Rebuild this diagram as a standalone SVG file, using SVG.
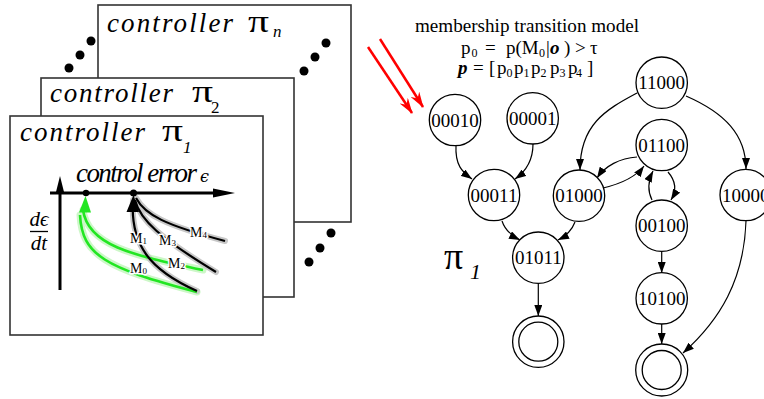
<svg xmlns="http://www.w3.org/2000/svg" width="764" height="399" viewBox="0 0 764 399">
<style>
.panel{fill:#fff;stroke:#333;stroke-width:1.6}
.ctl{font-family:"Liberation Serif",serif;font-style:italic;font-size:27px;fill:#000}
.pi{font-family:"Liberation Serif",serif;font-size:32px;fill:#000}
.sub{font-family:"Liberation Serif",serif;font-size:17px;fill:#000}
.dot{fill:#000}
.axis{stroke:#000;stroke-width:3;fill:none}
.gh{stroke:#cdf7c8;stroke-width:7;fill:none;stroke-linecap:round}
.gc{stroke:#22e622;stroke-width:2.6;fill:none}
.bh{stroke:#c8c8c8;stroke-width:6;fill:none;stroke-linecap:round}
.bc{stroke:#000;stroke-width:2.2;fill:none}
.ml{font-family:"Liberation Serif",serif;font-size:14px;fill:#000;stroke:#fff;stroke-width:3;paint-order:stroke;stroke-linejoin:round}
.ms{font-size:9px}
.node circle{fill:#fff;stroke:#000;stroke-width:1.3}
.node text{font-family:"Liberation Serif",serif;font-size:19px;text-anchor:middle;fill:#000}
.edge{stroke:#000;stroke-width:1.2;fill:none;marker-end:url(#ah)}
.red{stroke:#f00;stroke-width:2.5;fill:none;marker-end:url(#rh)}
.hdr{font-family:"Liberation Serif",serif;font-size:19px;fill:#000}
.hs{font-size:12px}
.bi{font-weight:bold;font-style:italic}
</style>
<defs>
<marker id="ah" viewBox="0 0 11 8" refX="11" refY="4" markerWidth="11" markerHeight="8" markerUnits="userSpaceOnUse" orient="auto"><path d="M0,0L11,4L0,8z" fill="#000"/></marker>
<marker id="rh" viewBox="0 0 16 10" refX="15" refY="5" markerWidth="16" markerHeight="10" markerUnits="userSpaceOnUse" orient="auto"><path d="M0,0L16,5L0,10L5,5z" fill="#f00"/></marker>
</defs>

<g id="panel-n">
<rect class="panel" x="98" y="5" width="253" height="217"/>
<text class="ctl" x="107" y="32" textLength="126" lengthAdjust="spacing">controller</text>
<text class="pi" x="248" y="32" textLength="21" lengthAdjust="spacingAndGlyphs">π</text>
<text class="sub" x="273" y="37" font-style="italic">n</text>
</g>
<g id="dots">
<circle class="dot" cx="69" cy="68" r="4.5"/><circle class="dot" cx="80" cy="55" r="4.5"/><circle class="dot" cx="91" cy="41" r="4.5"/>
<circle class="dot" cx="304" cy="71" r="4.5"/><circle class="dot" cx="315" cy="57" r="4.5"/><circle class="dot" cx="326" cy="43" r="4.5"/>
<circle class="dot" cx="309" cy="262" r="4.5"/><circle class="dot" cx="320" cy="248" r="4.5"/><circle class="dot" cx="331" cy="233" r="4.5"/>
</g>
<g id="panel-2">
<rect class="panel" x="41" y="78" width="253" height="219"/>
<text class="ctl" x="50" y="102" textLength="123" lengthAdjust="spacing">controller</text>
<text class="pi" x="192" y="102" textLength="21" lengthAdjust="spacingAndGlyphs">π</text>
<text class="sub" x="211" y="113">2</text>
</g>
<g id="panel-1">
<rect class="panel" x="10" y="116" width="253" height="219"/>
<text class="ctl" x="20" y="141" textLength="125" lengthAdjust="spacing">controller</text>
<text class="pi" x="162" y="141" textLength="21" lengthAdjust="spacingAndGlyphs">π</text>
<text class="sub" x="183" y="153" font-style="italic">1</text>
</g>

<g id="plot">
<text class="ctl" x="76" y="182" font-size="20" textLength="121" lengthAdjust="spacing">control error</text>
<text x="200" y="182" font-family="'DejaVu Serif','Liberation Serif',serif" font-size="16" font-style="italic">ϵ</text>
<line class="axis" x1="50" y1="193" x2="216" y2="193"/>
<polygon points="235,193 213,188.5 213,197.5" fill="#000"/>
<line class="axis" x1="60" y1="290" x2="60" y2="192"/>
<polygon points="60,176 55.5,194 64.5,194" fill="#000"/>
<text x="39" y="226" font-family="'Liberation Serif',serif" font-size="21" font-style="italic" text-anchor="middle">dϵ</text>
<line x1="30" y1="231.5" x2="48" y2="231.5" stroke="#000" stroke-width="1.3"/>
<text x="39" y="250" font-family="'Liberation Serif',serif" font-size="21" font-style="italic" text-anchor="middle">dt</text>

<path class="gh" d="M83,210 C88,245 130,255 203,270"/>
<path class="gh" d="M80,215 C82,255 105,268 197,292"/>
<path class="bh" d="M133,200 C130,245 150,270 197,291"/>
<path class="bh" d="M135,200 C140,220 160,238 216,272"/>
<path class="bh" d="M136,198 C145,215 165,225 225,241" stroke-width="8"/>
<path class="gc" d="M83,210 C88,245 130,255 203,270"/>
<path class="gc" d="M80,215 C82,255 105,268 197,292"/>
<path class="bc" d="M133,200 C130,245 150,270 197,291"/>
<path class="bc" d="M135,200 C140,220 160,238 216,272"/>
<path class="bc" d="M136,198 C145,215 165,225 225,241" stroke-width="3.2"/>
<polygon points="85.5,196 79,212.5 91,212.5" fill="#22e622"/>
<polygon points="133.5,195 126.5,212 139,212" fill="#000"/>
<circle cx="86" cy="193" r="3.2" fill="#000"/>
<circle cx="133.5" cy="193" r="3.5" fill="#000"/>
<text class="ml" x="130" y="243">M<tspan class="ms" dy="1">1</tspan></text>
<text class="ml" x="159" y="245">M<tspan class="ms" dy="1">3</tspan></text>
<text class="ml" x="190" y="237">M<tspan class="ms" dy="1">4</tspan></text>
<text class="ml" x="168" y="268">M<tspan class="ms" dy="1">2</tspan></text>
<text class="ml" x="130" y="273">M<tspan class="ms" dy="1">0</tspan></text>
</g>

<g id="header">
<text class="hdr" x="415" y="32" textLength="224" lengthAdjust="spacingAndGlyphs">membership transition model</text>
<text class="hdr"><tspan x="461" y="54">p</tspan><tspan class="hs" x="471.5" y="56.5">0</tspan><tspan x="485" y="54">=</tspan><tspan x="506" y="54">p(M</tspan><tspan class="hs" x="539" y="56.5">0</tspan><tspan x="546" y="54">|</tspan><tspan x="550" y="54" class="bi">o</tspan><tspan x="564" y="54">)</tspan><tspan x="575" y="54">&gt;</tspan><tspan x="590" y="54">τ</tspan></text>
<text class="hdr"><tspan x="458" y="74" class="bi">p</tspan><tspan x="473" y="74">=</tspan><tspan x="489" y="74">[</tspan><tspan x="497" y="74">p</tspan><tspan class="hs" x="506.5" y="76.5">0</tspan><tspan x="514" y="74">p</tspan><tspan class="hs" x="523.5" y="76.5">1</tspan><tspan x="531" y="74">p</tspan><tspan class="hs" x="540.5" y="76.5">2</tspan><tspan x="550" y="74">p</tspan><tspan class="hs" x="559.5" y="76.5">3</tspan><tspan x="568" y="74">p</tspan><tspan class="hs" x="576" y="76.5">4</tspan><tspan x="587" y="74">]</tspan></text>
</g>

<g id="red-arrows">
<line class="red" x1="368" y1="47" x2="412" y2="113"/>
<line class="red" x1="380" y1="39" x2="423" y2="107"/>
</g>

<g id="pi1-label">
<text font-family="'Liberation Serif',serif"><tspan x="444" y="269" font-size="38">π</tspan><tspan x="470" y="279" font-size="22" font-style="italic">1</tspan></text>
</g>

<g id="edges">
<path class="edge" d="M456,145 C455,165 462,172 472,179"/>
<path class="edge" d="M533,144 C533,162 525,172 515,179"/>
<path class="edge" d="M637,93 C605,110 580,125 580,170"/>
<path class="edge" d="M686,96 C725,113 746,135 746,169"/>
<path class="edge" d="M637,157 C620,158 605,166 597,178"/>
<path class="edge" d="M603,188 C620,184 635,178 644,166"/>
<path class="edge" d="M652,200 C647,190 648,181 653,171"/>
<path class="edge" d="M668,172 C675,180 677,190 671,200"/>
<path class="edge" d="M502,221 C505,230 512,236 520,240"/>
<path class="edge" d="M575,222 C572,230 566,236 558,240"/>
<path class="edge" d="M538.3,284 L538.3,316"/>
<path class="edge" d="M661.7,252 L661.7,273"/>
<path class="edge" d="M661.7,324 L661.7,344"/>
<path class="edge" d="M746,221 C744,280 720,320 683,353"/>
</g>

<g id="n11000" class="node"><circle cx="661.7" cy="82.7" r="25.7"/><text x="661.7" y="89">11000</text></g>
<g id="n00010" class="node"><circle cx="455" cy="120" r="25.7"/><text x="455" y="126.5">00010</text></g>
<g id="n00001" class="node"><circle cx="532.7" cy="118.3" r="25.7"/><text x="532.7" y="124.5">00001</text></g>
<g id="n01100" class="node"><circle cx="661.7" cy="145" r="25.7"/><text x="661.7" y="151.5">01100</text></g>
<g id="n00011" class="node"><circle cx="494" cy="195" r="25.7"/><text x="494" y="201.5">00011</text></g>
<g id="n01000" class="node"><circle cx="579" cy="195.7" r="25.7"/><text x="579" y="202">01000</text></g>
<g id="n10000" class="node"><circle cx="745.7" cy="195" r="25.7"/><text x="745.7" y="201.5">10000</text></g>
<g id="n00100" class="node"><circle cx="661.7" cy="225.7" r="25.7"/><text x="661.7" y="232">00100</text></g>
<g id="n01011" class="node"><circle cx="538.3" cy="257.7" r="25.7"/><text x="538.3" y="264">01011</text></g>
<g id="n10100" class="node"><circle cx="661.7" cy="298.3" r="25.7"/><text x="661.7" y="304.5">10100</text></g>
<g id="final1" class="node"><circle cx="538.3" cy="341.7" r="25.7"/><circle cx="538.3" cy="341.7" r="19.5"/></g>
<g id="final2" class="node"><circle cx="661.7" cy="370" r="26"/><circle cx="661.7" cy="370" r="19.5"/></g>
</svg>
